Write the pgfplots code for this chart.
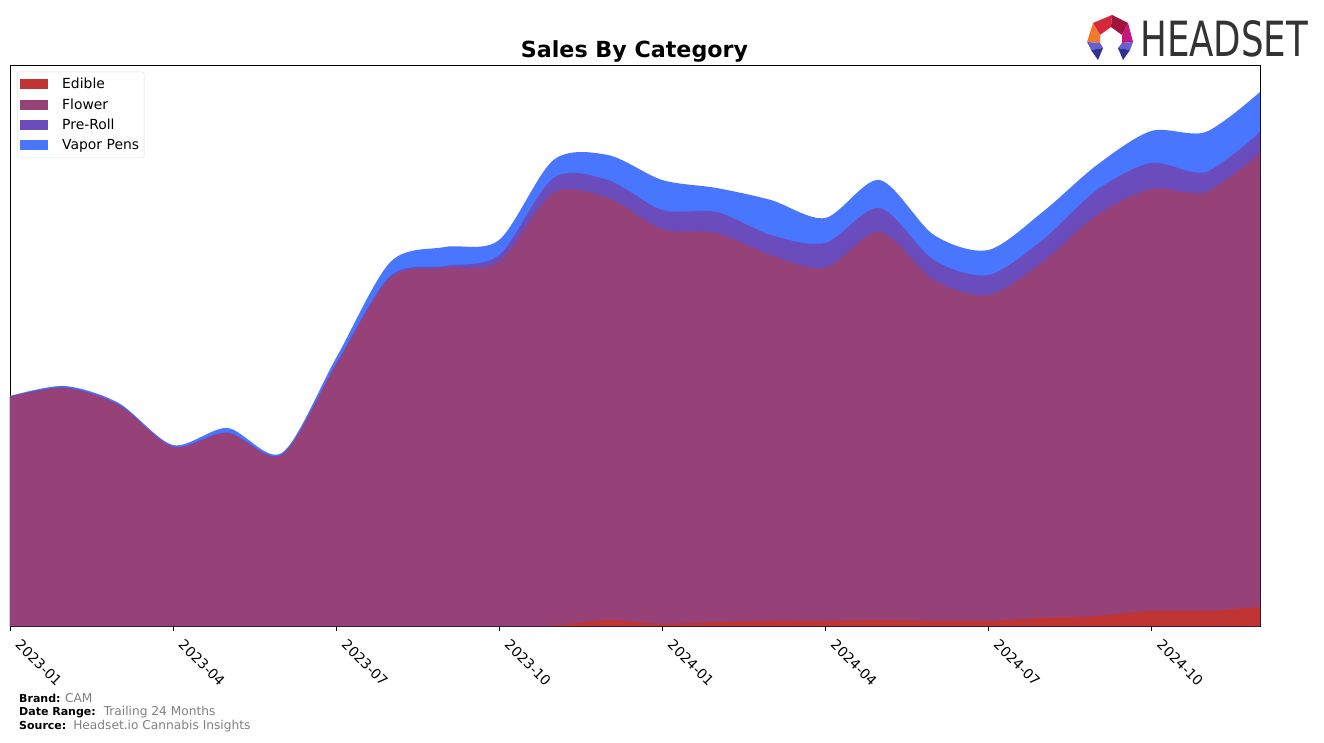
\documentclass[border=0pt]{standalone}
\usepackage{pgfplots}
\pgfplotsset{compat=1.18}
\usepackage{pgfplotstable}
\usepackage{fontspec}
\setmainfont{DejaVu Sans}
\definecolor{cEdible}{RGB}{193,52,52}
\definecolor{cFlower}{RGB}{150,65,120}
\definecolor{cPreRoll}{RGB}{106,76,189}
\definecolor{cVapor}{RGB}{72,118,255}
\definecolor{cGrayText}{RGB}{128,128,128}
\definecolor{cLogo}{RGB}{51,51,51}
\definecolor{lgRed}{RGB}{214,40,58}
\definecolor{lgCrimson}{RGB}{160,20,60}
\definecolor{lgOrange}{RGB}{240,122,42}
\definecolor{lgMagenta}{RGB}{194,24,126}
\definecolor{lgViolet}{RGB}{107,95,208}
\definecolor{lgBlue}{RGB}{46,49,146}

% month index, Edible, Flower, Pre-Roll, Vapor Pens (stack heights, arbitrary units)
\pgfplotstableread{
m e f p v
0 0 229 0.5 0.5
1 0 238 0.5 1.5
2 0 221 0.5 1.5
3 0 179 0.5 1.5
4 0 193 0.5 4.5
5 0 171 0.5 1.5
6 0 261 1 6
7 0 348 2 14
8 0 358 2 19
9 0 364 7 15
10 0.5 432.5 15 18
11 6 422 18 25
12 2 395 19 30
13 4 389 21 24
14 5 366 20 35
15 5 353 25 25
16 6 388 24 28
17 5 341 20 25
18 5 326 20 25
19 8 356 22 28
20 10 401 25 25
21 15 422 26 32
22 15 419 20 40
23 19 454 21 40
}\datatable

\newcommand{\lbl}[1]{{\fontsize{11}{13}\selectfont\bfseries #1}}
\newcommand{\val}[1]{{\fontsize{12.2}{14}\selectfont\color{cGrayText}#1}}

\begin{document}
\begin{tikzpicture}
\begin{scope}[x=1pt,y=1pt,shift={(-10pt,626pt)},yscale=-1]
  \useasboundingbox (0,0) rectangle (1324,742);
  % title
  \node[font=\fontsize{22.2}{26}\selectfont\bfseries] at (634.5,51) {Sales By Category};
  % footer
  \node[anchor=west,inner sep=0pt] at (19,698) {\lbl{Brand:}\hspace{4.5pt}\val{CAM}};
  \node[anchor=west,inner sep=0pt] at (19,712) {\lbl{Date Range:}\hspace{8pt}\val{Trailing 24 Months}};
  \node[anchor=west,inner sep=0pt] at (19,726) {\lbl{Source:}\hspace{7pt}\val{Headset.io Cannabis Insights}};
  % logo
  \node[anchor=north west,inner sep=0pt] at (1140,20) {\color{cLogo}\resizebox{168pt}{36pt}{HEADSET}};
  \fill[lgRed] (1093,23) -- (1112,15) -- (1111,27) -- (1100,35) -- cycle;
  \fill[lgCrimson] (1112,15) -- (1128,23) -- (1122,35) -- (1111,27) -- cycle;
  \fill[lgOrange] (1093,23) -- (1100,35) -- (1100,43) -- (1087,42) -- cycle;
  \fill[lgMagenta] (1128,23) -- (1133,42) -- (1122,43) -- (1122,35) -- cycle;
  \fill[lgViolet] (1087,42) -- (1100,43) -- (1103,48) -- (1091,50) -- cycle;
  \fill[lgBlue] (1091,50) -- (1103,48) -- (1098,60) -- cycle;
  \fill[lgViolet] (1133,42) -- (1122,43) -- (1118,48) -- (1130,50) -- cycle;
  \fill[lgBlue] (1130,50) -- (1118,48) -- (1123,60) -- cycle;
\end{scope}
\begin{axis}[
  at={(0pt,0pt)}, anchor=south west,
  scale only axis, width=1250pt, height=561pt,
  xmin=0, xmax=23, ymin=0, ymax=561,
  axis line style={line width=0.8pt},
  xtick={0,3,6,9,12,15,18,21},
  xticklabels={2023-01,2023-04,2023-07,2023-10,2024-01,2024-04,2024-07,2024-10},
  xtick pos=left,
  ytick=\empty,
  tick align=outside, major tick length=5pt,
  xtick style={black,line width=0.8pt},
  xticklabel style={xshift=12pt,yshift=-6pt,rotate=-45,anchor=north west,inner sep=1pt,font=\fontsize{13.9}{16}\selectfont},
  legend style={at={(0.0056,0.988)},anchor=north west,draw=black!15,rounded corners=2pt,
    font=\fontsize{13.9}{16}\selectfont,row sep=4.5pt,inner xsep=3pt,inner ysep=4pt},
  legend cell align=left,
  reverse legend,
  legend image code/.code={\path[#1,draw=none,sharp corners] (0pt,-5pt) rectangle (28pt,5pt);},
]
\addplot[fill=cVapor,draw=none,smooth] table[x=m,y expr=\thisrow{e}+\thisrow{f}+\thisrow{p}+\thisrow{v}] {\datatable} \closedcycle;
\addlegendentry{\hspace{12pt}Vapor Pens}
\addplot[fill=cPreRoll,draw=none,smooth] table[x=m,y expr=\thisrow{e}+\thisrow{f}+\thisrow{p}] {\datatable} \closedcycle;
\addlegendentry{\hspace{12pt}Pre-Roll}
\addplot[fill=cFlower,draw=none,smooth] table[x=m,y expr=\thisrow{e}+\thisrow{f}] {\datatable} \closedcycle;
\addlegendentry{\hspace{12pt}Flower}
\addplot[fill=cEdible,draw=none,smooth] table[x=m,y=e] {\datatable} \closedcycle;
\addlegendentry{\hspace{12pt}Edible}
\end{axis}
\end{tikzpicture}
\end{document}
